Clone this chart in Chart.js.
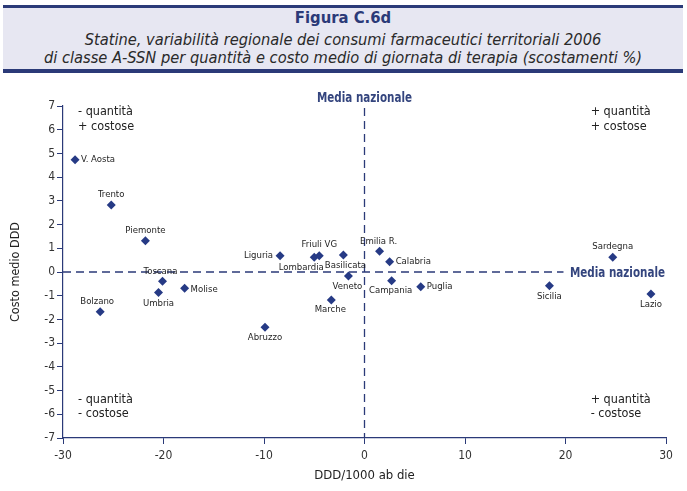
<!DOCTYPE html>
<html>
<head>
<meta charset="utf-8">
<script src="https://cdn.jsdelivr.net/npm/chart.js@4/dist/chart.umd.min.js"></script>
<style>
  html, body { margin: 0; padding: 0; background: #fff; }
  body { width: 687px; height: 491px; position: relative; overflow: hidden; }
  #header {
    position: absolute; left: 3px; top: 5px; width: 680px; height: 61px;
    background: #e7e7f2; border-top: 3px solid #2b3a78; border-bottom: 4px solid #2b3a78;
    text-align: center; font-family: "DejaVu Sans Condensed", "DejaVu Sans", sans-serif;
  }
  #header .t1 { color: #2b3a78; font-weight: bold; font-size: 16.5px; line-height: 18px; margin-top: 1px; }
  #header .t2 { color: #2a2a2a; font-style: italic; font-size: 16.3px; line-height: 18px; }
  #header .l1 { margin-top: 4px; }
  #wrap { position: absolute; left: 0; top: 0; width: 687px; height: 491px; }
</style>
</head>
<body>
<div id="header">
  <div class="t1">Figura C.6d</div>
  <div class="t2 l1">Statine, variabilità regionale dei consumi farmaceutici territoriali 2006</div>
  <div class="t2">di classe A-SSN per quantità e costo medio di giornata di terapia (scostamenti %)</div>
</div>
<div id="wrap"><canvas id="c" width="687" height="491"></canvas></div>
<script>
// ---- data ----
const regions = ["V. Aosta","Trento","Piemonte","Toscana","Umbria","Molise","Bolzano",
  "Liguria","Lombardia","Friuli VG","Basilicata","Veneto","Marche","Abruzzo",
  "Emilia R.","Calabria","Campania","Puglia","Sicilia","Sardegna","Lazio"];
const dddScost = [-28.8,-25.2,-21.8,-20.1,-20.5,-17.9,-26.3,
  -8.4,-5.0,-4.5,-2.1,-1.6,-3.3,-9.9,
  1.5,2.5,2.7,5.6,18.4,24.7,28.5];
const costoScost = [4.73,2.83,1.32,-0.39,-0.86,-0.68,-1.68,
  0.68,0.62,0.69,0.72,-0.17,-1.18,-2.33,
  0.87,0.43,-0.37,-0.62,-0.58,0.62,-0.93];
const xTitle = "DDD/1000 ab die";
const yTitle = "Costo medio DDD";
const refLabel = "Media nazionale";
const quadrants = [
  {x: -28.5, y: 7, lines: ["- quantità", "+ costose"]},
  {x: 22.5, y: 7, lines: ["+ quantità", "+ costose"]},
  {x: -28.5, y: -5.12, lines: ["- quantità", "- costose"]},
  {x: 22.5, y: -5.12, lines: ["+ quantità", "- costose"]}
];

// ---- style ----
const NAVY = "#263a85";
const AXIS = "#2b3a78";
const FONT = '"DejaVu Sans Condensed", "DejaVu Sans", sans-serif';
const REF_W = 95; // target width of the reference labels
// label placement: [side, dx, dy]
const labelStyle = {
  "V. Aosta": ["right", 6, 0], "Trento": ["top", 0, -10], "Piemonte": ["top", 0, -10],
  "Toscana": ["top", -2, -10], "Umbria": ["bottom", 0, 11], "Molise": ["right", 6, 1],
  "Bolzano": ["top", -3, -10], "Liguria": ["left", -7, 0], "Lombardia": ["bottom", -13, 10],
  "Friuli VG": ["top", 0, -11], "Basilicata": ["bottom", 2, 11], "Veneto": ["bottom", -1, 10],
  "Marche": ["bottom", -1, 10], "Abruzzo": ["bottom", 0, 10], "Emilia R.": ["top", -1, -10],
  "Calabria": ["right", 6, 0], "Campania": ["bottom", -1, 10], "Puglia": ["right", 6, 0],
  "Sicilia": ["bottom", 0, 11], "Sardegna": ["top", 0, -11], "Lazio": ["bottom", 0, 10]
};

const points = dddScost.map((x, i) => ({x: x, y: costoScost[i]}));

function narrowText(ctx, text, cx, cy, align) {
  const w = ctx.measureText(text).width;
  const s = Math.min(1, REF_W / w);
  ctx.save();
  ctx.translate(cx, cy);
  ctx.scale(s, 1);
  ctx.textAlign = align;
  ctx.fillText(text, 0, 0);
  ctx.restore();
}

const overlay = {
  id: "overlay",
  beforeDatasetsDraw(chart) {
    const {ctx, chartArea: a, scales: {x, y}} = chart;
    const x0 = x.getPixelForValue(0), y0 = y.getPixelForValue(0);
    ctx.save();
    ctx.strokeStyle = AXIS;
    ctx.lineWidth = 1.3;
    ctx.setLineDash([8, 5]);
    ctx.beginPath();
    ctx.moveTo(x0, a.top + 2); ctx.lineTo(x0, a.bottom);
    ctx.moveTo(a.left, y0); ctx.lineTo(x.getPixelForValue(19.8), y0);
    ctx.stroke();
    ctx.setLineDash([]);
    // reference labels
    ctx.fillStyle = "#34457e";
    ctx.font = "bold 14px " + FONT;
    ctx.textBaseline = "middle";
    narrowText(ctx, refLabel, x0, a.top - 8, "center");
    narrowText(ctx, refLabel, a.right - 1, y0 + 1, "right");
    // quadrant texts
    ctx.fillStyle = "#222";
    ctx.font = "12.5px " + FONT;
    ctx.textAlign = "left";
    quadrants.forEach(q => {
      const px = x.getPixelForValue(q.x), py = y.getPixelForValue(q.y) + 6;
      q.lines.forEach((l, k) => ctx.fillText(l, px, py + k * 14.5));
    });
    ctx.restore();
  },
  afterDatasetsDraw(chart) {
    const {ctx, scales: {x, y}} = chart;
    ctx.save();
    ctx.fillStyle = "#1e1e1e";
    ctx.font = "9.5px " + FONT;
    ctx.textBaseline = "middle";
    regions.forEach((name, i) => {
      const px = x.getPixelForValue(dddScost[i]), py = y.getPixelForValue(costoScost[i]);
      const [side, dx, dy] = labelStyle[name];
      ctx.textAlign = side === "right" ? "left" : side === "left" ? "right" : "center";
      ctx.fillText(name, px + dx, py + dy);
    });
    ctx.restore();
  }
};

new Chart(document.getElementById("c"), {
  type: "scatter",
  data: { datasets: [{ data: points, pointStyle: "rectRot", pointRadius: 4.5,
    backgroundColor: NAVY, borderColor: NAVY, borderWidth: 0 }] },
  options: {
    responsive: false, animation: false, devicePixelRatio: 1,
    layout: { padding: { top: 106, left: 0, right: 21, bottom: 0 } },
    plugins: { legend: { display: false }, tooltip: { enabled: false } },
    scales: {
      x: {
        type: "linear", min: -30, max: 30,
        afterFit: s => { s.height = 53; },
        ticks: { stepSize: 10, color: "#333", font: { family: FONT, size: 12 }, padding: 5 },
        grid: { drawOnChartArea: false, tickLength: 6, color: AXIS },
        border: { color: AXIS, width: 1.2 },
        title: { display: true, text: xTitle, color: "#222", font: { family: FONT, size: 13 }, padding: 8 }
      },
      y: {
        type: "linear", min: -7, max: 7,
        afterFit: s => { s.width = 63; },
        ticks: { stepSize: 1, color: "#333", font: { family: FONT, size: 12 }, padding: 2 },
        grid: { drawOnChartArea: false, tickLength: 6, color: AXIS },
        border: { color: AXIS, width: 1.2 },
        title: { display: true, text: yTitle, color: "#222", font: { family: FONT, size: 12.5 }, padding: 8 }
      }
    }
  },
  plugins: [overlay]
});
</script>
</body>
</html>
